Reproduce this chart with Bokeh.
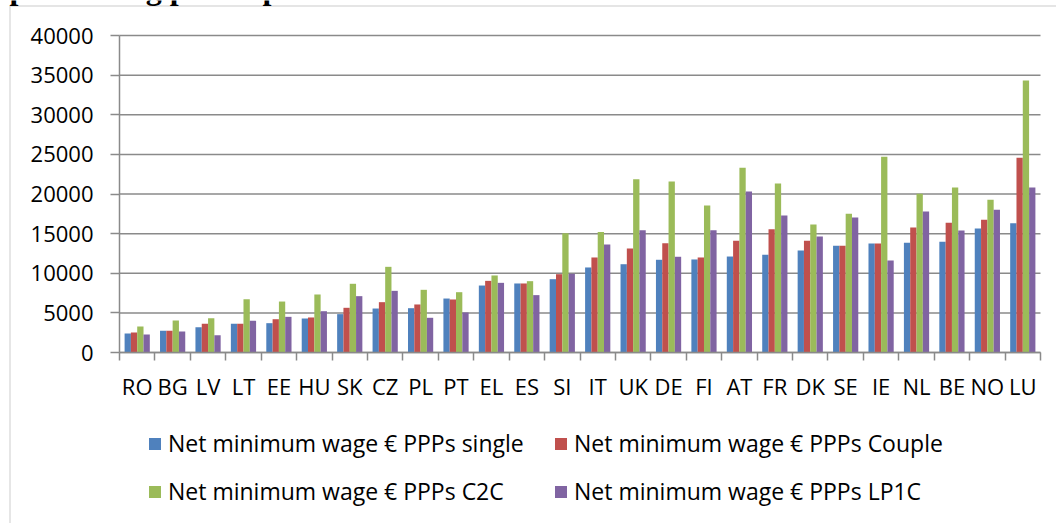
from bokeh.plotting import figure
from bokeh.models import (Range1d, FixedTicker, Legend, LegendItem, ColumnDataSource,
                          BoxAnnotation, Label)
from bokeh.transform import dodge
from bokeh.embed import file_html
from bokeh.resources import INLINE

countries = ["RO", "BG", "LV", "LT", "EE", "HU", "SK", "CZ", "PL", "PT", "EL", "ES", "SI",
             "IT", "UK", "DE", "FI", "AT", "FR", "DK", "SE", "IE", "NL", "BE", "NO", "LU"]
single = [2400, 2730, 3200, 3620, 3700, 4290, 4840, 5550, 5590, 6810, 8450, 8710, 9250,
          10730, 11140, 11700, 11740, 12110, 12320, 12870, 13460, 13750, 13840, 13970, 15650, 16320]
couple = [2520, 2730, 3620, 3620, 4200, 4420, 5640, 6350, 6060, 6690, 9040, 8710, 9880,
          11990, 13120, 13800, 11990, 14090, 15560, 14090, 13460, 13750, 15770, 16360, 16740, 24570]
c2c = [3280, 4040, 4330, 6730, 6430, 7320, 8670, 10810, 7910, 7610, 9720, 9000, 15060,
       15190, 21870, 21580, 18550, 23300, 21320, 16150, 17500, 24690, 20020, 20820, 19270, 34320]
lp1c = [2270, 2650, 2190, 4000, 4500, 5210, 7110, 7780, 4380, 5050, 8790, 7240, 9930,
        13630, 15440, 12080, 15440, 20320, 17290, 14640, 17030, 11610, 17790, 15390, 18000, 20820]
series_names = ["Net minimum wage \u20ac PPPs single", "Net minimum wage \u20ac PPPs Couple",
                "Net minimum wage \u20ac PPPs C2C", "Net minimum wage \u20ac PPPs LP1C"]
series_keys = ["single", "couple", "c2c", "lp1c"]
colors = ["#4F81BD", "#C0504D", "#9BBB59", "#8064A2"]
y_ticks = [0, 5000, 10000, 15000, 20000, 25000, 30000, 35000, 40000]
y_max = 40000
title_text = "purchasing power parities"

n = len(countries)
centers = [i + 0.5 for i in range(n)]
bounds = [float(i) for i in range(n + 1)]

# ---- page geometry (pixels) ----
W, H = 1056, 523
AX_LEFT, AX_RIGHT = 119, 1040      # x pixel of category 0 and n
AX_TOP, AX_BOTTOM = 35, 352        # y pixel of y_max and 0
UX = (AX_RIGHT - AX_LEFT) / n      # px per category
UY = (AX_BOTTOM - AX_TOP) / y_max  # px per unit value


def px_x(px):
    return (px - AX_LEFT) / UX


def px_y(py):
    return (AX_BOTTOM - py) / UY


source = ColumnDataSource(dict(pos=centers, country=countries, single=single,
                               couple=couple, c2c=c2c, lp1c=lp1c))

FONT = "Open Sans"
GRID = "#8a8a8a"

p = figure(width=W, height=H,
           x_range=Range1d(px_x(0), px_x(W)), y_range=Range1d(px_y(H), px_y(0)),
           output_backend="svg", toolbar_location=None, title=None,
           min_border=0, min_border_left=0, min_border_right=0,
           min_border_top=0, min_border_bottom=0)
p.outline_line_color = None
p.background_fill_color = "white"
p.border_fill_color = "white"
p.xgrid.visible = False
p.ygrid.visible = False

# horizontal gridlines across the category extent
p.segment(x0=[0] * len(y_ticks), x1=[n] * len(y_ticks), y0=y_ticks, y1=y_ticks,
          line_color=GRID, line_width=1.5)

bw = 0.178
offsets = [-1.5 * bw, -0.5 * bw, 0.5 * bw, 1.5 * bw]
renderers = []
for key, off, col in zip(series_keys, offsets, colors):
    r = p.vbar(x=dodge("pos", off, range=p.x_range), top=key, width=bw, bottom=0,
               source=source, fill_color=col, line_color=None)
    renderers.append(r)

ya = p.yaxis[0]
ya.fixed_location = 0
ya.bounds = (0, y_max)
ya.ticker = FixedTicker(ticks=y_ticks)
ya.axis_line_color = GRID
ya.axis_line_width = 1.5
ya.major_tick_line_color = GRID
ya.major_tick_line_width = 1.5
ya.major_tick_out = 9
ya.major_tick_in = 0
ya.minor_tick_line_color = None
ya.major_label_text_font = FONT
ya.major_label_text_font_size = "22px"
ya.major_label_text_color = "black"
ya.major_label_standoff = 17

xa = p.xaxis[0]
xa.fixed_location = 0
xa.bounds = (0, n)
xa.ticker = FixedTicker(ticks=centers, minor_ticks=bounds)
xa.major_label_overrides = {c: name for c, name in zip(centers, countries)}
xa.axis_line_color = GRID
xa.axis_line_width = 1.5
xa.major_tick_line_color = None
xa.major_tick_out = 0
xa.major_tick_in = 0
xa.minor_tick_line_color = GRID
xa.minor_tick_line_width = 1.5
xa.minor_tick_out = 8
xa.minor_tick_in = 0
xa.major_label_text_font = FONT
xa.major_label_text_font_size = "22px"
xa.major_label_text_color = "black"
xa.major_label_standoff = 10

# outer chart border (left and top edges visible)
p.add_layout(BoxAnnotation(left=px_x(9.5), right=px_x(W + 20), top=px_y(5.5), bottom=px_y(H + 20),
                           fill_alpha=0, line_color="#8f8f8f", line_width=1.5))

# clipped heading from the page above the chart
p.add_layout(Label(x=px_x(9), y=px_y(-12.5), text=title_text, text_font="Liberation Serif",
                   text_font_style="bold", text_font_size="32px", text_color="black",
                   text_baseline="alphabetic", text_align="left"))

legend_pos = [(147, 64), (553, 64), (147, 16), (553, 16)]
for name, r, loc in zip(series_names, renderers, legend_pos):
    lg = Legend(items=[LegendItem(label=name, renderers=[r])], location=loc,
                orientation="horizontal", padding=0, margin=0, spacing=0,
                glyph_width=15, glyph_height=15, label_standoff=6, label_height=15,
                label_text_font=FONT, label_text_font_size="23px",
                label_text_color="black", border_line_color=None,
                background_fill_alpha=0)
    p.add_layout(lg, "center")

open("out.html", "w").write(file_html(p, INLINE))
